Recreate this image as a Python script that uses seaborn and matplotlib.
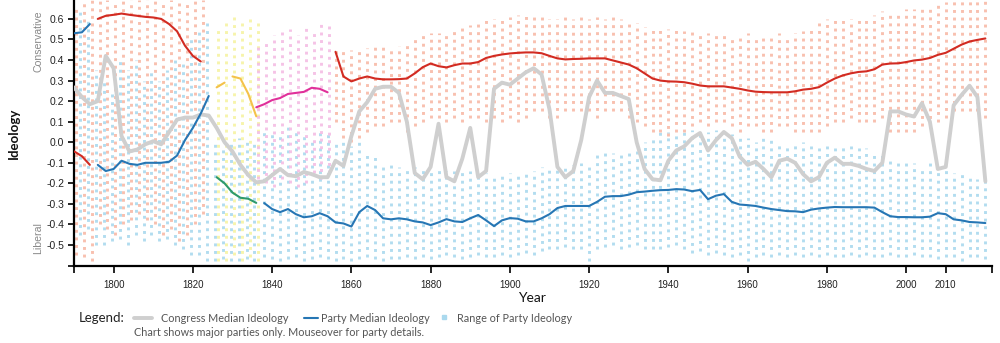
import numpy as np
import pandas as pd
import matplotlib
matplotlib.use("Agg")
import matplotlib.pyplot as plt
from matplotlib.lines import Line2D
import seaborn as sns

# ---------------- data ----------------
congress_years = np.arange(1790, 2021, 2)
congress_median = [
    0.267, 0.22, 0.185, 0.20, 0.42, 0.36, 0.03, -0.045, -0.035, -0.01,
    0.005, -0.01, 0.05, 0.11, 0.12, 0.12, 0.135, 0.13, 0.07, 0.0,
    -0.045, -0.11, -0.16, -0.195, -0.19, -0.16, -0.13, -0.16, -0.165, -0.145,
    -0.155, -0.17, -0.17, -0.09, -0.115, 0.03, 0.15, 0.195, 0.26, 0.27,
    0.27, 0.24, 0.10, -0.15, -0.18, -0.12, 0.09, -0.17, -0.19, -0.08,
    0.07, -0.17, -0.14, 0.26, 0.29, 0.28, 0.31, 0.34, 0.36, 0.33,
    0.16, -0.12, -0.17, -0.14, 0.01, 0.22, 0.30, 0.24, 0.24, 0.225,
    0.21, 0.0, -0.13, -0.18, -0.185, -0.09, -0.04, -0.02, 0.02, 0.045,
    -0.04, 0.01, 0.05, 0.02, -0.07, -0.11, -0.095, -0.13, -0.17, -0.09,
    -0.08, -0.10, -0.155, -0.19, -0.17, -0.10, -0.075, -0.105, -0.105, -0.115,
    -0.13, -0.14, -0.10, 0.15, 0.15, 0.135, 0.125, 0.19, 0.10, -0.13,
    -0.12, 0.18, 0.23, 0.275, 0.22, -0.19,
]

# Pro-Administration (red)
proadmin_years = [1790, 1792, 1794]
proadmin_median = [-0.044, -0.068, -0.11]
proadmin_lo = [-0.55, -0.56, -0.58]
proadmin_hi = [0.66, 0.69, 0.69]

# Anti-Administration (blue)
antiadmin_years = [1790, 1792, 1794]
antiadmin_median = [0.53, 0.535, 0.575]
antiadmin_lo = [-0.40, -0.45, -0.42]
antiadmin_hi = [0.62, 0.64, 0.60]

# Federalist (red)
federalist_years = list(range(1796, 1823, 2))
federalist_median = [0.60, 0.615, 0.62, 0.626, 0.62, 0.615, 0.61, 0.607, 0.60,
                     0.575, 0.54, 0.47, 0.42, 0.393]
federalist_lo = [-0.40, -0.42, -0.45, -0.40, -0.38, -0.35, -0.38, -0.40, -0.45,
                 -0.42, -0.48, -0.45, -0.40, -0.35]
federalist_hi = [0.69] * 14

# Jeffersonian Republicans (blue)
jeffrep_years = list(range(1796, 1825, 2))
jeffrep_median = [-0.11, -0.14, -0.13, -0.09, -0.105, -0.11, -0.10, -0.10, -0.10,
                  -0.095, -0.065, 0.01, 0.07, 0.14, 0.225]
jeffrep_lo = [-0.50, -0.50, -0.48, -0.47, -0.50, -0.45, -0.48, -0.45, -0.48,
              -0.47, -0.50, -0.52, -0.55, -0.55, -0.58]
jeffrep_hi = [0.35, 0.30, 0.25, 0.40, 0.35, 0.40, 0.30, 0.35, 0.30,
              0.35, 0.40, 0.40, 0.50, 0.55, 0.60]

# Adams / National Republicans (yellow)
adams_years = [1826, 1828]
adams_median = [0.267, 0.29]
adams_lo = [-0.58, -0.58]
adams_hi = [0.55, 0.60]
natrep_years = [1830, 1832, 1834, 1836]
natrep_median = [0.32, 0.31, 0.235, 0.126]
natrep_lo = [-0.55, -0.58, -0.56, -0.58]
natrep_hi = [0.62, 0.60, 0.62, 0.60]

# Jacksonians (green line, blue range)
jackson_years = [1826, 1828, 1830, 1832, 1834, 1836]
jackson_median = [-0.17, -0.20, -0.245, -0.27, -0.275, -0.295]
jackson_lo = [-0.58, -0.57, -0.58, -0.58, -0.57, -0.58]
jackson_hi = [0.0, -0.02, 0.0, 0.02, 0.0, 0.0]

# Whigs (pink)
whig_years = list(range(1836, 1855, 2))
whig_median = [0.17, 0.185, 0.205, 0.215, 0.235, 0.24, 0.245, 0.265, 0.26, 0.243]
whig_lo = [-0.18, -0.20, -0.22, -0.18, -0.20, -0.22, -0.20, -0.15, -0.18, -0.15]
whig_hi = [0.48, 0.50, 0.52, 0.55, 0.55, 0.52, 0.56, 0.55, 0.58, 0.57]

# Democrats (blue)
dem_years = list(range(1838, 2021, 2))
dem_median = [
    -0.296, -0.325, -0.34, -0.325, -0.35, -0.365, -0.36, -0.345, -0.36, -0.39,
    -0.395, -0.41, -0.34, -0.31, -0.33, -0.37, -0.375, -0.37, -0.375, -0.385,
    -0.39, -0.403, -0.39, -0.374, -0.385, -0.388, -0.37, -0.354, -0.38, -0.408,
    -0.38, -0.369, -0.372, -0.385, -0.385, -0.37, -0.35, -0.32, -0.31, -0.31,
    -0.31, -0.31, -0.29, -0.265, -0.262, -0.262, -0.255, -0.243, -0.24, -0.236,
    -0.233, -0.232, -0.228, -0.23, -0.238, -0.232, -0.277, -0.26, -0.252, -0.29,
    -0.303, -0.306, -0.31, -0.318, -0.325, -0.33, -0.335, -0.336, -0.34, -0.328,
    -0.322, -0.318, -0.315, -0.316, -0.316, -0.316, -0.316, -0.318, -0.34, -0.36,
    -0.364, -0.364, -0.365, -0.365, -0.362, -0.345, -0.35, -0.375, -0.38, -0.388,
    -0.39, -0.393,
]
dem_hi = [
    0.05, 0.05, 0.05, 0.08, 0.05, 0.05, 0.00, 0.05, 0.05, 0.00,
    0.00, -0.02, 0.00, -0.05, -0.05, -0.10, -0.10, -0.12, -0.12, -0.12,
    -0.13, -0.14, -0.13, -0.14, -0.14, -0.14, -0.14, -0.15, -0.15, -0.16,
    -0.15, -0.15, -0.15, -0.14, -0.14, -0.12, -0.12, -0.12, -0.11, -0.11,
    -0.10, -0.10, -0.06, -0.05, -0.05, -0.06, -0.05, -0.03, 0.00, 0.02,
    0.05, 0.05, 0.04, 0.05, 0.06, 0.05, 0.05, 0.06, 0.05, 0.04,
    0.03, 0.02, 0.00, 0.02, 0.03, 0.00, -0.02, 0.00, 0.00, -0.02,
    -0.03, -0.02, -0.03, -0.02, -0.02, -0.03, -0.03, -0.05, -0.05, -0.08,
    -0.08, -0.09, -0.10, -0.12, -0.10, -0.12, -0.12, -0.15, -0.15, -0.17,
    -0.18, -0.19,
]
dem_lo = [
    -0.56, -0.57, -0.58, -0.57, -0.56, -0.58, -0.57, -0.56, -0.57, -0.58,
    -0.57, -0.58, -0.57, -0.56, -0.57, -0.58, -0.57, -0.57, -0.56, -0.57,
    -0.56, -0.57, -0.56, -0.55, -0.56, -0.57, -0.56, -0.55, -0.56, -0.56,
    -0.55, -0.56, -0.55, -0.54, -0.55, -0.53, -0.52, -0.52, -0.51, -0.52,
    -0.52, -0.58, -0.52, -0.51, -0.50, -0.52, -0.51, -0.50, -0.52, -0.52,
    -0.52, -0.51, -0.50, -0.52, -0.54, -0.53, -0.55, -0.54, -0.55, -0.56,
    -0.55, -0.58, -0.56, -0.55, -0.56, -0.55, -0.56, -0.55, -0.56, -0.55,
    -0.56, -0.55, -0.56, -0.56, -0.55, -0.56, -0.55, -0.56, -0.56, -0.55,
    -0.56, -0.56, -0.55, -0.56, -0.56, -0.57, -0.56, -0.56, -0.58, -0.56,
    -0.56, -0.57,
]

# Republicans (red)
rep_years = list(range(1856, 2021, 2))
rep_median = [
    0.44, 0.32, 0.296, 0.31, 0.32, 0.31, 0.306, 0.306, 0.307, 0.31,
    0.335, 0.365, 0.383, 0.37, 0.364, 0.375, 0.383, 0.383, 0.39, 0.41,
    0.42, 0.427, 0.432, 0.435, 0.437, 0.437, 0.433, 0.42, 0.408, 0.403,
    0.405, 0.406, 0.408, 0.408, 0.408, 0.398, 0.388, 0.378, 0.36, 0.335,
    0.31, 0.30, 0.296, 0.295, 0.292, 0.285, 0.276, 0.272, 0.272, 0.272,
    0.266, 0.26, 0.252, 0.246, 0.244, 0.243, 0.243, 0.243, 0.248, 0.256,
    0.26, 0.268, 0.29, 0.31, 0.325, 0.335, 0.342, 0.345, 0.355, 0.378,
    0.383, 0.384, 0.39, 0.398, 0.402, 0.41, 0.425, 0.435, 0.455, 0.475,
    0.49, 0.498, 0.505,
]
rep_hi = [
    0.45, 0.46, 0.45, 0.45, 0.46, 0.47, 0.47, 0.46, 0.47, 0.48,
    0.50, 0.52, 0.53, 0.53, 0.52, 0.55, 0.56, 0.57, 0.58, 0.60,
    0.60, 0.61, 0.61, 0.62, 0.63, 0.62, 0.61, 0.60, 0.60, 0.61,
    0.60, 0.61, 0.60, 0.61, 0.60, 0.62, 0.60, 0.58, 0.58, 0.56,
    0.55, 0.56, 0.55, 0.56, 0.54, 0.55, 0.54, 0.53, 0.52, 0.53,
    0.52, 0.52, 0.53, 0.52, 0.51, 0.52, 0.53, 0.52, 0.53, 0.54,
    0.56, 0.58, 0.60, 0.61, 0.60, 0.60, 0.60, 0.61, 0.62, 0.64,
    0.64, 0.64, 0.65, 0.65, 0.65, 0.66, 0.67, 0.68, 0.69, 0.69,
    0.69, 0.69, 0.69,
]
rep_lo = [
    0.10, 0.02, 0.00, 0.02, 0.05, 0.08, 0.08, 0.10, 0.10, 0.05,
    0.08, 0.10, 0.12, 0.12, 0.10, 0.12, 0.10, 0.12, 0.12, 0.10,
    0.12, 0.10, 0.12, 0.10, 0.12, 0.15, 0.15, 0.12, 0.12, 0.15,
    0.15, 0.15, 0.15, 0.12, 0.15, 0.15, 0.15, 0.12, 0.10, 0.08,
    0.05, 0.05, 0.03, 0.05, 0.05, 0.08, 0.10, 0.08, 0.10, 0.10,
    0.08, 0.05, 0.08, 0.08, 0.05, 0.05, 0.08, 0.08, 0.05, 0.05,
    0.05, 0.05, 0.08, 0.10, 0.10, 0.12, 0.10, 0.10, 0.10, 0.12,
    0.05, 0.05, 0.05, 0.05, 0.08, 0.08, 0.10, 0.12, 0.15, 0.15,
    0.15, 0.15, 0.12,
]

y_ticks = [0.6, 0.5, 0.4, 0.3, 0.2, 0.1, 0.0, -0.1, -0.2, -0.3, -0.4, -0.5]
x_ticks = [1800, 1820, 1840, 1860, 1880, 1900, 1920, 1940, 1960, 1980, 2000, 2010]

# ---------------- style ----------------
RED, BLUE = "#d22b22", "#2676b4"
RED_DOT, BLUE_DOT = "#f8b9a6", "#aad9ee"
YEL, YEL_DOT = "#f4c24a", "#f6f3a3"
GREEN = "#2f9a6b"
PINK, PINK_DOT = "#e0309a", "#f4bde4"
GREY = "#cfcfcf"

sns.set_theme(style="white")
plt.rcParams["font.family"] = ["Liberation Sans", "DejaVu Sans"]

fig = plt.figure(figsize=(10, 3.43), dpi=100)
ax = fig.add_axes([0.074, 0.2245, 0.9177, 0.7755])

dot_style = (0, (1, 1.6))
ranges = [
    (antiadmin_years, antiadmin_lo, antiadmin_hi, BLUE_DOT, -0.45),
    (jeffrep_years, jeffrep_lo, jeffrep_hi, BLUE_DOT, -0.45),
    (jackson_years, jackson_lo, jackson_hi, BLUE_DOT, -0.45),
    (dem_years, dem_lo, dem_hi, BLUE_DOT, 0.0),
    (proadmin_years, proadmin_lo, proadmin_hi, RED_DOT, 0.45),
    (federalist_years, federalist_lo, federalist_hi, RED_DOT, 0.45),
    (adams_years, adams_lo, adams_hi, YEL_DOT, 0.45),
    (natrep_years, natrep_lo, natrep_hi, YEL_DOT, 0.45),
    (whig_years, whig_lo, whig_hi, PINK_DOT, 0.45),
    (rep_years, rep_lo, rep_hi, RED_DOT, 0.0),
]
for yrs, lo, hi, col, shift in ranges:
    xs = [y + shift for y in yrs]
    lc = ax.vlines(xs, lo, hi, colors=col, linewidth=2.1, linestyles=[dot_style],
                   alpha=0.9, zorder=1)
    lc.set_capstyle("butt")

sns.lineplot(x=congress_years, y=congress_median, color=GREY, linewidth=2.8,
             estimator=None, sort=False, ax=ax, zorder=3)

party_lines = [
    (proadmin_years, proadmin_median, RED),
    (antiadmin_years, antiadmin_median, BLUE),
    (federalist_years, federalist_median, RED),
    (jeffrep_years, jeffrep_median, BLUE),
    (adams_years, adams_median, YEL),
    (natrep_years, natrep_median, YEL),
    (jackson_years, jackson_median, GREEN),
    (whig_years, whig_median, PINK),
    (dem_years, dem_median, BLUE),
    (rep_years, rep_median, RED),
]
for yrs, med, col in party_lines:
    sns.lineplot(x=yrs, y=med, color=col, linewidth=1.5, estimator=None,
                 sort=False, ax=ax, zorder=4)

ax.set_xlim(1790, 2021.6)
ax.set_ylim(-0.602, 0.692)
ax.set_xticks(x_ticks)
ax.set_xticklabels([str(t) for t in x_ticks])
ax.set_yticks(y_ticks)
ax.set_yticklabels([f"{t:.1f}" for t in y_ticks])
ax.set_xticks([1790, 2021.6], minor=True)
ax.set_yticks([-0.602], minor=True)

for side in ["top", "right"]:
    ax.spines[side].set_visible(False)
for side in ["left", "bottom"]:
    ax.spines[side].set_color("black")
    ax.spines[side].set_linewidth(1.6)

ax.tick_params(axis="y", which="both", direction="out", length=4, width=1.2,
               color="black", labelsize=7.5, labelcolor="#222222", pad=3, left=True)
ax.tick_params(axis="x", which="both", direction="out", length=5, width=1.2,
               color="black", labelsize=7, labelcolor="#222222", pad=5, bottom=True)
ax.set_xlabel("")
ax.set_ylabel("")

fig.text(0.038, 1 - 41 / 343, "Conservative", rotation=90, ha="center", va="center",
         fontsize=7.6, color="#888888")
fig.text(0.038, 1 - 238 / 343, "Liberal", rotation=90, ha="center", va="center",
         fontsize=7.6, color="#888888")
fig.text(0.014, 1 - 133 / 343, "Ideology", rotation=90, ha="center", va="center",
         fontsize=9.5, fontweight="bold", color="#111111", family=["Lato", "DejaVu Sans"])
fig.text(0.532, 1 - 298 / 343, "Year", ha="center", va="center",
         fontsize=10, color="#111111", family=["Lato", "DejaVu Sans"])

# legend
ly = 1 - 318 / 343
fig.text(0.079, ly, "Legend:", ha="left", va="center", fontsize=9.5,
         color="#222222", family=["Lato", "DejaVu Sans"])
fig.add_artist(Line2D([0.134, 0.152], [ly, ly], transform=fig.transFigure,
                      color=GREY, linewidth=2.8))
fig.text(0.161, ly, "Congress Median Ideology", ha="left", va="center", fontsize=7.8,
         color="#555555", family=["Lato", "DejaVu Sans"])
fig.add_artist(Line2D([0.304, 0.318], [ly, ly], transform=fig.transFigure,
                      color=BLUE, linewidth=1.5))
fig.text(0.321, ly, "Party Median Ideology", ha="left", va="center", fontsize=7.8,
         color="#555555", family=["Lato", "DejaVu Sans"])
fig.add_artist(Line2D([0.4435], [ly + 0.004], transform=fig.transFigure, marker="s",
                      markersize=3, color=BLUE_DOT, linestyle="none"))
fig.text(0.457, ly, "Range of Party Ideology", ha="left", va="center", fontsize=7.8,
         color="#555555", family=["Lato", "DejaVu Sans"])
fig.text(0.134, 1 - 333 / 343, "Chart shows major parties only. Mouseover for party details.",
         ha="left", va="center", fontsize=7.8, color="#555555", family=["Lato", "DejaVu Sans"])

fig.savefig("out.png", dpi=100)
